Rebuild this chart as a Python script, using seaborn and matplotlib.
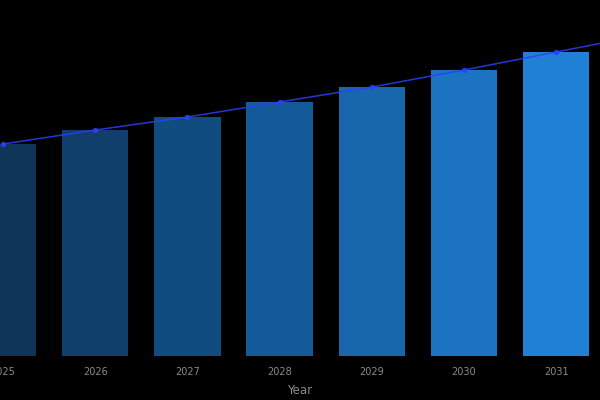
import matplotlib
matplotlib.use('Agg')
import matplotlib.pyplot as plt
import seaborn as sns
import pandas as pd

# Datos
years = ['2025', '2026', '2027', '2028', '2029', '2030', '2031', '2032']
values = [10.6, 11.3, 11.95, 12.7, 13.45, 14.3, 15.2, 16.1]
bar_colors = ['#0e3457', '#0f3f6a', '#114c80', '#155a98', '#1867ac', '#1c73c2', '#1f80d6', '#2189e0']

df = pd.DataFrame({'Year': years, 'Value': values})

sns.set_style('dark')
plt.rcParams['font.family'] = ['DejaVu Sans']

fig = plt.figure(figsize=(6, 4), dpi=100, facecolor='black')
ax = fig.add_axes([0, 0.11, 1, 0.89])
ax.set_facecolor('black')

sns.barplot(data=df, x='Year', y='Value', hue='Year', palette=bar_colors,
            width=0.72, legend=False, saturation=1, linewidth=0, ax=ax)

sns.pointplot(data=df, x='Year', y='Value', color='#2a40ff', markers='o',
              markersize=3, linewidth=1.1, ax=ax)
for l in ax.lines:
    l.set_alpha(0.85)

ax.set_xlim(-0.033, 6.475)
ax.set_ylim(0, 17.8)

for s in ax.spines.values():
    s.set_visible(False)
ax.set_yticks([])
ax.grid(False)
ax.tick_params(axis='x', colors='#8a8a8a', labelsize=7, length=0, pad=8)
ax.set_xlabel('Year', color='#8a8a8a', fontsize=8.5, labelpad=5)
ax.set_ylabel('')

fig.savefig('out.png', dpi=100, facecolor='black')
